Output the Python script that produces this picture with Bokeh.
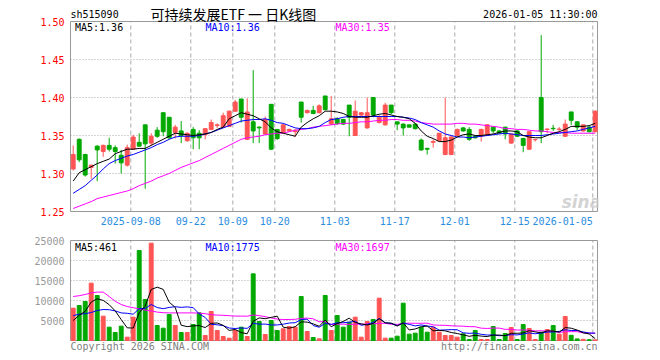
import numpy as np
import pandas as pd
from bokeh.plotting import figure
from bokeh.models import (FixedTicker, Label, Range1d, AllLabels, PrintfTickFormatter,
                          ColumnDataSource)
from bokeh.layouts import column
from bokeh.embed import file_html
from bokeh.resources import INLINE

# ---------------- data ----------------
dates = [
    "2025-08-25", "2025-08-26", "2025-08-27", "2025-08-28", "2025-08-29",
    "2025-09-01", "2025-09-02", "2025-09-03", "2025-09-04", "2025-09-05",
    "2025-09-08", "2025-09-09", "2025-09-10", "2025-09-11", "2025-09-12",
    "2025-09-15", "2025-09-16", "2025-09-17", "2025-09-18", "2025-09-19",
    "2025-09-22", "2025-09-23", "2025-09-24", "2025-09-25", "2025-09-26",
    "2025-09-29", "2025-09-30", "2025-10-09", "2025-10-10", "2025-10-13",
    "2025-10-14", "2025-10-15", "2025-10-16", "2025-10-17", "2025-10-20",
    "2025-10-21", "2025-10-22", "2025-10-23", "2025-10-24", "2025-10-27",
    "2025-10-28", "2025-10-29", "2025-10-30", "2025-10-31", "2025-11-03",
    "2025-11-04", "2025-11-05", "2025-11-06", "2025-11-07", "2025-11-10",
    "2025-11-11", "2025-11-12", "2025-11-13", "2025-11-14", "2025-11-17",
    "2025-11-18", "2025-11-19", "2025-11-20", "2025-11-21", "2025-11-24",
    "2025-11-25", "2025-11-26", "2025-11-27", "2025-11-28", "2025-12-01",
    "2025-12-02", "2025-12-03", "2025-12-04", "2025-12-05", "2025-12-08",
    "2025-12-09", "2025-12-10", "2025-12-11", "2025-12-12", "2025-12-15",
    "2025-12-16", "2025-12-17", "2025-12-18", "2025-12-19", "2025-12-22",
    "2025-12-23", "2025-12-24", "2025-12-25", "2025-12-26", "2025-12-29",
    "2025-12-30", "2025-12-31", "2026-01-05",
]

open_ = [1.306, 1.345, 1.325, 1.308, 1.336, 1.329, 1.337, 1.334, 1.324, 1.311,
         1.332, 1.341, 1.364, 1.340, 1.357, 1.380, 1.374, 1.354, 1.356, 1.343,
         1.358, 1.353, 1.351, 1.358, 1.363, 1.361, 1.362, 1.382, 1.398, 1.345,
         1.368, 1.361, 1.352, 1.391, 1.358, 1.354, 1.356, 1.355, 1.394, 1.380,
         1.383, 1.380, 1.402, 1.365, 1.372, 1.371, 1.390, 1.350, 1.377, 1.360,
         1.400, 1.367, 1.364, 1.390, 1.368, 1.365, 1.364, 1.365, 1.344, 1.333,
         1.341, 1.343, 1.325, 1.325, 1.350, 1.360, 1.358, 1.349, 1.349, 1.350,
         1.361, 1.356, 1.361, 1.340, 1.356, 1.346, 1.332, 1.3445, 1.400, 1.358,
         1.3595, 1.358, 1.349, 1.381, 1.368, 1.356, 1.361, 1.355]
high = [1.337, 1.346, 1.326, 1.311, 1.337, 1.338, 1.347, 1.337, 1.331, 1.338,
        1.351, 1.353, 1.364, 1.353, 1.361, 1.380, 1.374, 1.364, 1.369, 1.354,
        1.361, 1.357, 1.360, 1.371, 1.366, 1.380, 1.383, 1.397, 1.398, 1.399,
        1.436, 1.362, 1.375, 1.391, 1.358, 1.365, 1.359, 1.358, 1.394, 1.384,
        1.389, 1.391, 1.402, 1.402, 1.374, 1.372, 1.390, 1.396, 1.381, 1.400,
        1.400, 1.377, 1.393, 1.390, 1.368, 1.366, 1.364, 1.366, 1.346, 1.334,
        1.345, 1.353, 1.400, 1.350, 1.359, 1.361, 1.361, 1.350, 1.359, 1.365,
        1.362, 1.357, 1.361, 1.352, 1.357, 1.347, 1.355, 1.345, 1.482, 1.359,
        1.364, 1.361, 1.371, 1.381, 1.369, 1.364, 1.363, 1.383]
low = [1.304, 1.315, 1.296, 1.293, 1.290, 1.322, 1.329, 1.313, 1.300, 1.309,
       1.331, 1.335, 1.280, 1.336, 1.347, 1.349, 1.345, 1.346, 1.340, 1.342,
       1.332, 1.332, 1.345, 1.357, 1.360, 1.360, 1.361, 1.381, 1.367, 1.344,
       1.340, 1.340, 1.351, 1.331, 1.344, 1.353, 1.355, 1.348, 1.367, 1.379,
       1.378, 1.379, 1.383, 1.364, 1.364, 1.364, 1.349, 1.350, 1.375, 1.359,
       1.374, 1.366, 1.363, 1.378, 1.357, 1.350, 1.361, 1.358, 1.330, 1.325,
       1.334, 1.342, 1.324, 1.324, 1.349, 1.355, 1.343, 1.346, 1.342, 1.350,
       1.353, 1.353, 1.345, 1.339, 1.348, 1.328, 1.331, 1.342, 1.340, 1.353,
       1.356, 1.356, 1.348, 1.364, 1.357, 1.355, 1.354, 1.354]
close = [1.325, 1.318, 1.298, 1.311, 1.331, 1.337, 1.332, 1.329, 1.314, 1.334,
         1.348, 1.336, 1.339, 1.349, 1.349, 1.355, 1.347, 1.361, 1.350, 1.353,
         1.347, 1.347, 1.359, 1.367, 1.364, 1.376, 1.382, 1.394, 1.374, 1.381,
         1.356, 1.360, 1.371, 1.332, 1.346, 1.364, 1.358, 1.357, 1.374, 1.383,
         1.379, 1.389, 1.384, 1.372, 1.366, 1.365, 1.374, 1.382, 1.380, 1.380,
         1.377, 1.375, 1.390, 1.380, 1.365, 1.360, 1.361, 1.359, 1.331, 1.332,
         1.342, 1.353, 1.347, 1.348, 1.358, 1.356, 1.345, 1.347, 1.358, 1.364,
         1.356, 1.353, 1.352, 1.352, 1.349, 1.337, 1.355, 1.3447, 1.355, 1.3585,
         1.359, 1.3585, 1.365, 1.370, 1.361, 1.364, 1.355, 1.382]

ma5 = [1.290, 1.301, 1.305, 1.309, 1.313, 1.316, 1.319, 1.326, 1.329, 1.332,
       1.332, 1.333, 1.333, 1.337, 1.341, 1.345, 1.349, 1.353, 1.352, 1.351,
       1.350, 1.351, 1.352, 1.354, 1.358, 1.361, 1.372, 1.376, 1.380, 1.378,
       1.376, 1.372, 1.368, 1.360, 1.355, 1.353, 1.351, 1.349, 1.361, 1.367,
       1.372, 1.376, 1.382, 1.382, 1.381, 1.379, 1.375, 1.374, 1.374, 1.374,
       1.376, 1.378, 1.379, 1.377, 1.375, 1.374, 1.372, 1.366, 1.356, 1.349,
       1.346, 1.342, 1.342, 1.344, 1.348, 1.351, 1.352, 1.350, 1.350, 1.351,
       1.352, 1.354, 1.356, 1.356, 1.355, 1.350, 1.348, 1.347, 1.347, 1.350,
       1.353, 1.355, 1.358, 1.362, 1.362, 1.362, 1.363, 1.366]
ma10 = [1.274, 1.279, 1.284, 1.291, 1.298, 1.306, 1.313, 1.317, 1.320, 1.323,
        1.325, 1.328, 1.331, 1.334, 1.338, 1.341, 1.345, 1.348, 1.349, 1.349,
        1.349, 1.350, 1.352, 1.354, 1.357, 1.360, 1.363, 1.366, 1.369, 1.370,
        1.371, 1.371, 1.372, 1.370, 1.367, 1.366, 1.363, 1.360, 1.359, 1.359,
        1.360, 1.362, 1.367, 1.371, 1.372, 1.374, 1.375, 1.375, 1.375, 1.375,
        1.375, 1.375, 1.375, 1.375, 1.375, 1.374, 1.373, 1.371, 1.367, 1.364,
        1.361, 1.356, 1.352, 1.350, 1.348, 1.348, 1.347, 1.348, 1.349, 1.350,
        1.351, 1.352, 1.353, 1.352, 1.351, 1.350, 1.350, 1.350, 1.350, 1.351,
        1.352, 1.353, 1.354, 1.355, 1.356, 1.358, 1.360, 1.362]
ma30 = [1.254, 1.257, 1.260, 1.263, 1.267, 1.269, 1.271, 1.273, 1.275, 1.277,
        1.280, 1.284, 1.287, 1.290, 1.294, 1.297, 1.300, 1.304, 1.308, 1.311,
        1.314, 1.317, 1.321, 1.325, 1.329, 1.333, 1.337, 1.341, 1.345, 1.347,
        1.348, 1.349, 1.351, 1.352, 1.353, 1.353, 1.355, 1.357, 1.358, 1.359,
        1.361, 1.362, 1.363, 1.364, 1.365, 1.366, 1.366, 1.367, 1.368, 1.368,
        1.369, 1.370, 1.370, 1.371, 1.371, 1.370, 1.370, 1.369, 1.367, 1.366,
        1.365, 1.365, 1.365, 1.365, 1.366, 1.366, 1.365, 1.365, 1.364, 1.363,
        1.362, 1.361, 1.359, 1.359, 1.358, 1.358, 1.357, 1.356, 1.356, 1.355,
        1.354, 1.354, 1.354, 1.353, 1.353, 1.353, 1.353, 1.353]

volume = [8083, 8750, 9750, 14333, 11250, 6083, 3333, 2000, 3583, 833,
          5833, 22500, 10250, 24333, 3750, 3083, 6500, 3750, 2000, 2000,
          4000, 6917, 1250, 7250, 2500, 1000, 583, 2500, 3333, 1000,
          16667, 4750, 1500, 5000, 2500, 2917, 3500, 3333, 11000, 2250,
          750, 417, 11250, 2500, 6250, 3333, 4583, 5833, 833, 4750,
          5250, 10583, 583, 583, 1083, 9333, 1583, 1833, 3333, 2083,
          3333, 2083, 1250, 1250, 833, 1667, 250, 2500, 250, 250,
          3500, 250, 1750, 3250, 250, 4000, 3000, 250, 2083, 2750,
          3750, 1583, 6000, 1300, 400, 300, 200, 150]
# volume moving averages before enough history is on screen
vol_ma5_head = [5000, 6300, 7300, 9600]
vol_ma10_head = [6200, 6600, 6700, 7000, 7500, 7750, 7700, 7400, 6900]
vol_ma30_head = [11000, 11200, 11500, 11900, 12100, 12100, 11000, 9800, 9000, 8500,
                 8200, 7900, 7600, 7400, 7100, 6950, 6900, 6900, 6900, 6900,
                 6900, 6850, 6700, 6450, 6350, 6300, 6200, 6100, 6100]

tick_dates = ["2025-09-08", "2025-09-22", "2025-10-09", "2025-10-20", "2025-11-03",
              "2025-11-17", "2025-12-01", "2025-12-15", "2026-01-05"]
tick_labels = ["2025-09-08", "09-22", "10-09", "10-20", "11-03", "11-17", "12-01",
               "12-15", "2026-01-05"]
price_ticks = [1.25, 1.30, 1.35, 1.40, 1.45, 1.50]
vol_ticks = [0, 5000, 10000, 15000, 20000, 25000]

header_code = "sh515090"
header_title = "可持续发展ETF 一 日K线图"
header_time = "2026-01-05 11:30:00"
price_ma_text = ["MA5:1.36", "MA10:1.36", "MA30:1.35"]
vol_ma_text = ["MA5:461", "MA10:1775", "MA30:1697"]

# ---------------- derived ----------------
n = len(dates)
idx = np.arange(n)
o = np.array(open_); c = np.array(close)
UP, DOWN = "#ff5454", "#00a800"
colors = [UP if cc >= oo else DOWN for oo, cc in zip(o, c)]
src = ColumnDataSource(dict(x=idx, high=high, low=low, top=np.maximum(o, c),
                            bottom=np.minimum(o, c), color=colors, vol=volume,
                            ma5=ma5, ma10=ma10, ma30=ma30))
vs = pd.Series(volume, dtype=float)
vma5 = vs.rolling(5).mean().to_numpy(); vma5[:4] = vol_ma5_head
vma10 = vs.rolling(10).mean().to_numpy(); vma10[:9] = vol_ma10_head
vma30 = vs.rolling(30).mean().to_numpy(); vma30[:29] = vol_ma30_head
src.data["vma5"] = vma5; src.data["vma10"] = vma10; src.data["vma30"] = vma30

grid_pos = [dates.index(d) - 0.4 for d in tick_dates]
label_pos = list(grid_pos)
label_pos[-1] = grid_pos[-1] - len(tick_labels[-1]) * 6.02 / 2 / 6.0
overrides = {p: t for p, t in zip(label_pos, tick_labels)}

MONO = "DejaVu Sans Mono"
GRID = "#aaaaaa"
BOX = "#999999"
PX = 6.0                       # pixels per trading day
X0 = -0.45                     # left edge of the chart box
X1 = X0 + 527 / PX             # right edge of the chart box
xr = Range1d(X0 - 1 / PX, X0 + 528 / PX)


def base(h, yr, top, bottom):
    p = figure(width=652, height=h, x_range=xr, y_range=yr, output_backend="svg",
               toolbar_location=None, min_border_left=69, min_border_right=54,
               min_border_top=top, min_border_bottom=bottom)
    p.title.visible = False
    p.outline_line_color = None
    p.background_fill_color = "white"
    p.border_fill_color = "white"
    p.xgrid.visible = False
    p.ygrid.visible = False
    for ax in (p.xaxis[0], p.yaxis[0]):
        ax.axis_line_color = None
        ax.major_tick_line_color = None
        ax.minor_tick_line_color = None
        ax.major_tick_out = 0
        ax.major_tick_in = 0
        ax.major_label_text_font = MONO
        ax.major_label_text_font_size = "10px"
        ax.major_label_policy = AllLabels()
    p.yaxis.major_label_standoff = 5
    return p


def frame_and_grid(p, ylo, yhi, hticks):
    # dotted horizontal grid, dashed vertical grid, gray box
    p.segment(x0=[X0] * len(hticks), x1=[X1] * len(hticks), y0=hticks, y1=hticks,
              line_color=GRID, line_width=1, line_dash="1 2")
    p.segment(x0=grid_pos, x1=grid_pos, y0=[ylo] * len(grid_pos), y1=[yhi] * len(grid_pos),
              line_color=GRID, line_width=1, line_dash="4 3")
    p.quad(left=[X0], right=[X1], bottom=[ylo], top=[yhi], fill_color=None,
           line_color=BOX, line_width=1)


# ---------------- price panel ----------------
p1 = base(228, Range1d(price_ticks[0] - 1 / 760, price_ticks[-1] + 21 / 760), 0, 16)
p1.yaxis.ticker = FixedTicker(ticks=price_ticks)
p1.yaxis.formatter = PrintfTickFormatter(format="%.2f")
p1.yaxis.major_label_text_color = "#ff0000"
p1.xaxis.ticker = FixedTicker(ticks=label_pos)
p1.xaxis.major_label_overrides = overrides
p1.xaxis.major_label_text_color = "#2a8ee0"
p1.xaxis.major_label_standoff = 4

frame_and_grid(p1, price_ticks[0], price_ticks[-1], price_ticks[1:-1])

p1.add_layout(Label(x=84.7, y=1.263, text="sina", text_font="DejaVu Sans",
                    text_font_style="bold italic", text_font_size="17px",
                    text_color="#c8c8c8", text_alpha=0.8, text_align="center",
                    text_baseline="middle"))

p1.segment(x0="x", y0="low", x1="x", y1="high", color="color", line_width=1, source=src)
p1.vbar(x="x", width=0.65, top="top", bottom="bottom", fill_color="color",
        line_color="color", line_width=1, source=src)
p1.line("x", "ma30", color="#ff00ff", line_width=1, source=src)
p1.line("x", "ma10", color="#0000ff", line_width=1, source=src)
p1.line("x", "ma5", color="#000000", line_width=1, source=src)

hy = 1.50 + 7.4 / 760
p1.add_layout(Label(x=X0, y=hy, text=header_code, text_font=MONO, text_font_size="10px",
                    text_color="black", text_align="left", text_baseline="middle"))
p1.add_layout(Label(x=X0 + 80 / PX, y=hy, text=header_title, text_font="Noto Sans CJK SC",
                    text_font_size="14px", text_color="black", text_align="left",
                    text_baseline="middle"))
p1.add_layout(Label(x=X1, y=hy, text=header_time, text_font=MONO,
                    text_font_size="10px", text_color="black", text_align="right",
                    text_baseline="middle"))
ma_cols = ["#000000", "#0000ff", "#ff00ff"]
ma_x = [X0 + 4.5 / PX, X0 + 135 / PX, X0 + 265 / PX]
for t, col, xx in zip(price_ma_text, ma_cols, ma_x):
    p1.add_layout(Label(x=xx, y=1.50 - 5.5 / 760, text=t, text_font=MONO,
                        text_font_size="10px", text_color=col, text_align="left",
                        text_baseline="middle"))

# ---------------- volume panel ----------------
p2 = base(128, Range1d(-3500, vol_ticks[-1] + 250), 11, 2)
p2.xaxis.visible = False
p2.yaxis.ticker = FixedTicker(ticks=vol_ticks[1:])
p2.yaxis.formatter = PrintfTickFormatter(format="%d")
p2.yaxis.major_label_text_color = "#999999"

frame_and_grid(p2, vol_ticks[0], vol_ticks[-1], vol_ticks[1:-1])

p2.vbar(x="x", width=0.65, top="vol", bottom=0, fill_color="color", line_color="color",
        line_width=1, source=src)
p2.line("x", "vma30", color="#ff00ff", line_width=1, source=src)
p2.line("x", "vma10", color="#0000ff", line_width=1, source=src)
p2.line("x", "vma5", color="#000000", line_width=1, source=src)

for t, col, xx in zip(vol_ma_text, ma_cols, ma_x):
    p2.add_layout(Label(x=xx, y=23250, text=t, text_font=MONO, text_font_size="10px",
                        text_color=col, text_align="left", text_baseline="middle"))
p2.add_layout(Label(x=X0, y=-1500, text="Copyright 2026 SINA.COM", text_font=MONO,
                    text_font_size="10px", text_color="#808080", text_align="left",
                    text_baseline="middle"))
p2.add_layout(Label(x=X1, y=-1500, text="http://finance.sina.com.cn",
                    text_font=MONO, text_font_size="10px", text_color="#808080",
                    text_align="right", text_baseline="middle"))

layout = column(p1, p2, spacing=0)
open("out.html", "w").write(file_html(layout, INLINE))
